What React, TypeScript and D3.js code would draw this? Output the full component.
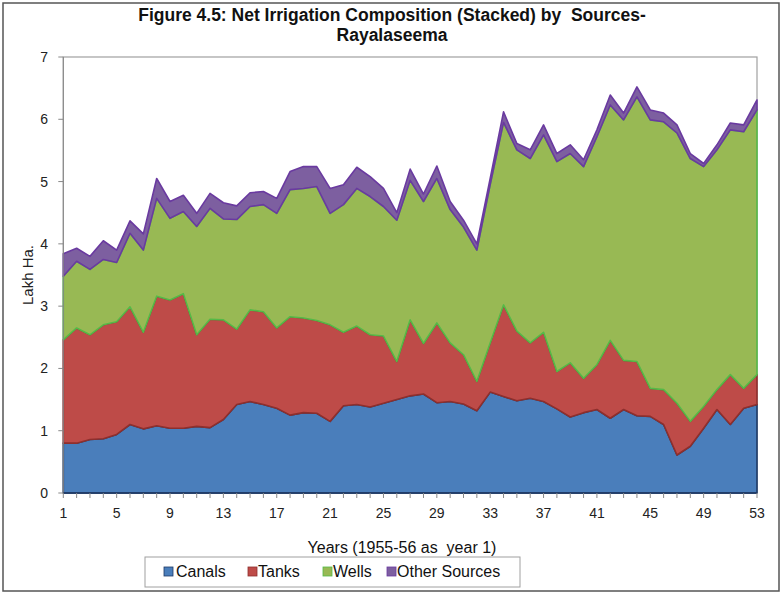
import React from "react";
import * as d3 from "d3";

const years: number[] = Array.from({ length: 53 }, (_, i) => i + 1);
const canals = [0.80,0.80,0.86,0.87,0.94,1.10,1.03,1.08,1.04,1.04,1.07,1.05,1.18,1.42,1.47,1.42,1.36,1.25,1.29,1.28,1.15,1.40,1.42,1.38,1.44,1.50,1.56,1.59,1.45,1.47,1.43,1.32,1.62,1.55,1.48,1.52,1.47,1.35,1.22,1.29,1.34,1.20,1.34,1.24,1.23,1.10,0.61,0.75,1.04,1.34,1.10,1.36,1.42];
const tanks = [1.66,1.85,1.68,1.83,1.81,1.89,1.55,2.08,2.06,2.16,1.47,1.74,1.60,1.21,1.47,1.49,1.29,1.58,1.52,1.49,1.55,1.18,1.26,1.16,1.08,0.61,1.22,0.81,1.28,0.94,0.79,0.47,0.79,1.47,1.12,0.89,1.11,0.60,0.87,0.55,0.72,1.25,0.79,0.87,0.45,0.56,0.83,0.40,0.35,0.32,0.80,0.32,0.48];
const wells = [1.02,1.07,1.05,1.05,0.95,1.18,1.32,1.57,1.31,1.32,1.74,1.78,1.62,1.76,1.66,1.72,1.84,2.04,2.08,2.15,1.79,2.05,2.21,2.22,2.08,2.27,2.24,2.28,2.32,2.14,2.05,2.11,2.54,2.93,2.91,2.96,3.17,3.37,3.36,3.40,3.66,3.78,3.86,4.25,4.31,4.30,4.34,4.22,3.85,3.85,3.93,4.12,4.25];
const otherSources = [0.36,0.21,0.21,0.30,0.20,0.20,0.26,0.32,0.27,0.26,0.21,0.24,0.26,0.22,0.22,0.21,0.24,0.29,0.35,0.32,0.40,0.32,0.34,0.32,0.29,0.12,0.18,0.12,0.20,0.13,0.11,0.10,0.10,0.17,0.10,0.14,0.16,0.13,0.14,0.11,0.11,0.16,0.11,0.16,0.16,0.14,0.13,0.08,0.05,0.08,0.11,0.11,0.16];

const seriesNames = ["Canals", "Tanks", "Wells", "Other Sources"];
const seriesKeys = ["canals", "tanks", "wells", "other"];
const fillColors = ["#4A7EBB", "#BE4B48", "#98B954", "#7D5FA0"];
const edgeColors = ["#1F3A66", "#8E2F2D", "#55B947", "#6A3AA0"];
const yTicks = [0, 1, 2, 3, 4, 5, 6, 7];
const xTickLabels = [1, 5, 9, 13, 17, 21, 25, 29, 33, 37, 41, 45, 49, 53];

const titleLine1 = "Figure 4.5: Net Irrigation Composition (Stacked) by  Sources-";
const titleLine2 = "Rayalaseema";
const yTitle = "Lakh Ha.";
const xTitle = "Years (1955-56 as  year 1)";

const FONT = "'Liberation Sans', Arial, sans-serif";

export default function App() {
  const W = 782, H = 595;
  const left = 63.3, right = 757, top = 57, bottom = 493;

  const rows = years.map((y, i) => ({
    year: y,
    canals: canals[i],
    tanks: tanks[i],
    wells: wells[i],
    other: otherSources[i],
  }));

  const x = d3.scaleLinear().domain([1, 53]).range([left, right]);
  const y = d3.scaleLinear().domain([0, 7]).range([bottom, top]);

  const stacked = d3.stack<any>().keys(seriesKeys)(rows);
  const area = d3
    .area<any>()
    .x((d) => x(d.data.year))
    .y0((d) => y(d[0]))
    .y1((d) => y(d[1]));

  const legendItems = [
    { x: 164, textX: 176 },
    { x: 248, textX: 258 },
    { x: 323, textX: 333 },
    { x: 387, textX: 397 },
  ];

  return (
    <svg
      width={W}
      height={H}
      style={{ position: "absolute", left: 0, top: 0, background: "#fff" }}
      fontFamily={FONT}
    >
      <rect x={0} y={0} width={W} height={H} fill="#fff" />
      <rect x={3} y={3} width={776} height={588} fill="none" stroke="#555" strokeWidth={1.5} />

      <text x={392} y={21} textAnchor="middle" fontSize={17.5} fontWeight="bold" fill="#111" style={{ whiteSpace: "pre" }}>
        {titleLine1}
      </text>
      <text x={392} y={41} textAnchor="middle" fontSize={17.5} fontWeight="bold" fill="#111">
        {titleLine2}
      </text>

      <rect x={left} y={top} width={right - left} height={bottom - top} fill="#fff" stroke="#A0A0A0" strokeWidth={1.2} />

      {stacked.map((s, i) => (
        <path
          key={seriesKeys[i]}
          d={area(s) || ""}
          fill={fillColors[i]}
          stroke={edgeColors[i]}
          strokeWidth={1.6}
          strokeLinejoin="round"
        />
      ))}

      {/* y axis */}
      <line x1={left} x2={left} y1={top} y2={bottom} stroke="#888" strokeWidth={1} />
      {yTicks.map((t) => (
        <g key={t}>
          <line x1={left - 5} x2={left} y1={y(t)} y2={y(t)} stroke="#888" />
          <text x={48} y={y(t) + 5} textAnchor="end" fontSize={14} fill="#222">
            {t}
          </text>
        </g>
      ))}
      <text
        transform={`translate(33,${(top + bottom) / 2}) rotate(-90)`}
        textAnchor="middle"
        fontSize={15}
        fill="#222"
      >
        {yTitle}
      </text>

      {/* x axis */}
      <line x1={left} x2={right} y1={bottom} y2={bottom} stroke="#1F3A66" strokeWidth={1.5} />
      {years.map((yr) => (
        <line key={yr} x1={x(yr)} x2={x(yr)} y1={bottom} y2={bottom + 5} stroke="#888" />
      ))}
      {xTickLabels.map((t) => (
        <text key={t} x={x(t)} y={518} textAnchor="middle" fontSize={14} fill="#222">
          {t}
        </text>
      ))}
      <text x={402} y={553} textAnchor="middle" fontSize={16} fill="#111" style={{ whiteSpace: "pre" }}>
        {xTitle}
      </text>

      {/* legend */}
      <rect x={145} y={557} width={375} height={30} fill="#fff" stroke="#A0A0A0" strokeWidth={1} />
      {seriesNames.map((n, i) => (
        <g key={n}>
          <rect x={legendItems[i].x} y={567} width={9} height={9} fill={fillColors[i]} stroke={edgeColors[i]} strokeWidth={0.8} />
          <text x={legendItems[i].textX} y={577} fontSize={16} fill="#111">
            {n}
          </text>
        </g>
      ))}
    </svg>
  );
}
